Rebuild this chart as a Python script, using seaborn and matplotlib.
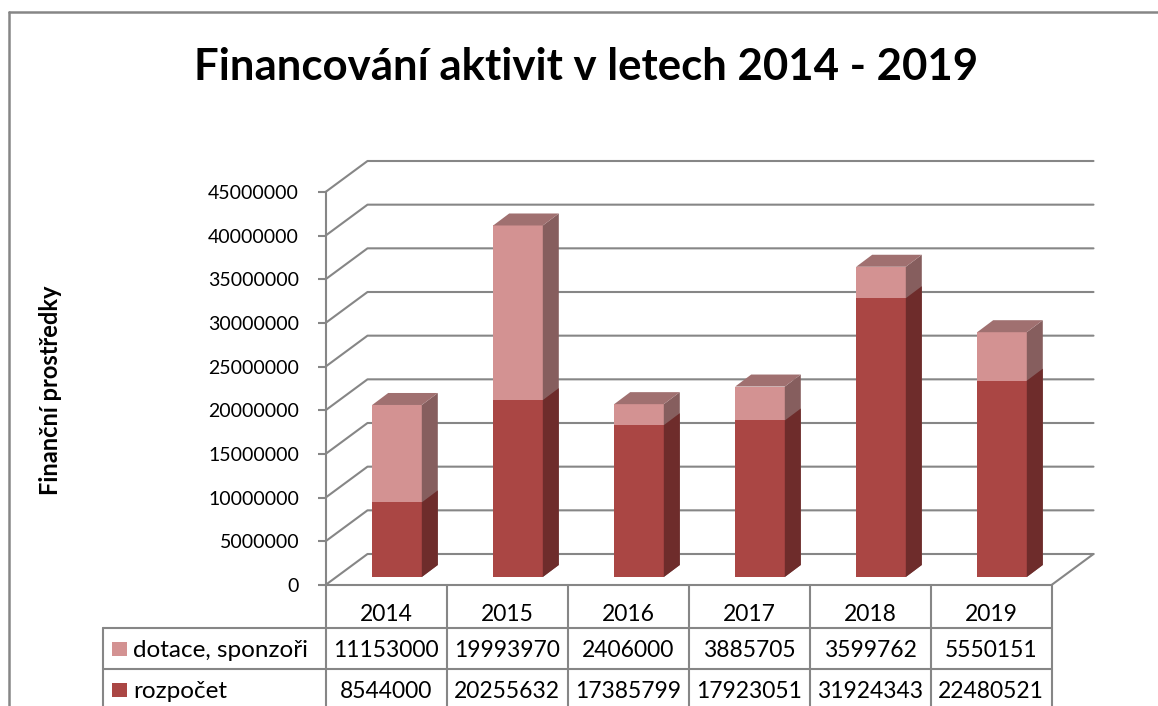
import pandas as pd
import matplotlib
matplotlib.use("Agg")
import matplotlib.pyplot as plt
from matplotlib.patches import Polygon, Rectangle
from matplotlib.lines import Line2D
from matplotlib.transforms import offset_copy, blended_transform_factory
import seaborn as sns

roky = ['2014', '2015', '2016', '2017', '2018', '2019']
dotace = [11153000, 19993970, 2406000, 3885705, 3599762, 5550151]
rozpocet = [8544000, 20255632, 17385799, 17923051, 31924343, 22480521]
serie = ['dotace, sponzoři', 'rozpočet']
yticks = list(range(0, 45000001, 5000000))

title = 'Financování aktivit v letech 2014 - 2019'
ylabel = 'Finanční prostředky'

grid_c = '#868686'
dot_front, dot_side, dot_top = '#D39292', '#865E5E', '#A07070'
roz_front, roz_side = '#AA4644', '#6E2C2B'

W, H = 1158, 706
sns.set_style('white')
plt.rcParams['font.family'] = ['Lato', 'DejaVu Sans']
plt.rcParams['text.color'] = 'black'

fig = plt.figure(figsize=(W / 100, H / 100), dpi=100)


def fx(x):
    return x / W


def fy(y):
    return 1 - y / H


# front plane of the 3d box: 0 at y=585px, 45M at y=192px
ax = fig.add_axes([fx(325.5), fy(585), 726 / W, 393 / H])

df = pd.DataFrame({'rok': roky, 'rozpocet': rozpocet, 'dotace': dotace})
df['celkem'] = df['rozpocet'] + df['dotace']

sns.barplot(data=df, x='rok', y='celkem', color=dot_front, saturation=1,
            width=0.41, errorbar=None, ax=ax, linewidth=0, zorder=3)
sns.barplot(data=df, x='rok', y='rozpocet', color=roz_front, saturation=1,
            width=0.41, errorbar=None, ax=ax, linewidth=0, zorder=4)

ax.set_xlim(-0.5, 5.5)
ax.set_ylim(0, 45000000)

px_val = 393 / 45000000.0
wall_dx, wall_dy = 42 / 121.0, 31 / px_val
side_dx, side_dy = 16 / 121.0, 12 / px_val

# bars stand a bit behind the front plane
bar_tr = offset_copy(ax.transData, fig=fig, x=11, y=8, units='dots')
bars = list(ax.patches)
for k, p in enumerate(bars):
    total = k < len(roky)
    p.set_transform(bar_tr)
    p.set_clip_on(False)
    x0, y0, w, h = p.get_x(), p.get_y(), p.get_width(), p.get_height()
    z = 3 if total else 4
    side = Polygon([(x0 + w, y0), (x0 + w + side_dx, y0 + side_dy),
                    (x0 + w + side_dx, y0 + h + side_dy), (x0 + w, y0 + h)],
                   closed=True, transform=bar_tr, facecolor=dot_side if total else roz_side,
                   lw=0, zorder=z, clip_on=False)
    ax.add_patch(side)
    if total:
        top = Polygon([(x0, y0 + h), (x0 + side_dx, y0 + h + side_dy),
                       (x0 + w + side_dx, y0 + h + side_dy), (x0 + w, y0 + h)],
                      closed=True, transform=bar_tr, facecolor=dot_top,
                      lw=0, zorder=z, clip_on=False)
        ax.add_patch(top)

# walls and floor
for v in yticks:
    ax.plot([-0.5, -0.5 + wall_dx, 5.5 + wall_dx], [v, v + wall_dy, v + wall_dy],
            color=grid_c, lw=1.5, zorder=1, clip_on=False)
ax.plot([5.5, 5.5 + wall_dx], [0, wall_dy], color=grid_c, lw=1.5, zorder=1, clip_on=False)
ax.plot([-0.5, 5.5], [0, 0], color=grid_c, lw=1.5, zorder=1, clip_on=False)

for s in ['top', 'right', 'bottom']:
    ax.spines[s].set_visible(False)
ax.spines['left'].set_color(grid_c)
ax.spines['left'].set_linewidth(1.5)
ax.set_yticks(yticks, labels=[str(v) for v in yticks])
ax.tick_params(axis='y', left=True, length=6, width=1.5, color=grid_c, pad=13,
               labelsize=14, labelcolor='black')
ax.tick_params(axis='x', bottom=False, labelbottom=False)
ax.set_xlabel('')
ax.set_ylabel('')
ax.patch.set_alpha(0)

# data table
tr_x = blended_transform_factory(ax.transData, fig.transFigure)
for k in range(len(roky) + 1):
    ax.plot([k - 0.5, k - 0.5], [fy(585), 0], transform=tr_x, color=grid_c,
            lw=1.5, clip_on=False)
for yy in [628, 669]:
    fig.add_artist(Line2D([fx(103), fx(1051.5)], [fy(yy), fy(yy)],
                          transform=fig.transFigure, color=grid_c, lw=1.5))
fig.add_artist(Line2D([fx(103), fx(103)], [fy(628), 0],
                      transform=fig.transFigure, color=grid_c, lw=1.5))

for i, r in enumerate(roky):
    ax.text(i, fy(621), r, transform=tr_x, ha='center', va='baseline', size=16.5)
    ax.text(i, fy(657), str(dotace[i]), transform=tr_x, ha='center', va='baseline', size=16.5)
    ax.text(i, fy(698), str(rozpocet[i]), transform=tr_x, ha='center', va='baseline', size=16.5)

for name, col, ytop, base in [(serie[0], dot_front, 642, 657), (serie[1], roz_front, 683, 698)]:
    fig.add_artist(Rectangle((fx(112), fy(ytop + 14)), 15 / W, 14 / H,
                             transform=fig.transFigure, facecolor=col, lw=0))
    fig.text(fx(133), fy(base), name, ha='left', va='baseline', size=17.5)

fig.text(fx(586), fy(80), title, ha='center', va='baseline', size=31.5, weight='bold')
fig.text(fx(51), fy(390), ylabel, ha='center', va='center', rotation=90,
         size=17, weight='bold')

# chart border
fig.add_artist(Line2D([fx(9), fx(9)], [fy(12), 0], transform=fig.transFigure,
                      color=grid_c, lw=1.8))
fig.add_artist(Line2D([fx(9), 1], [fy(12), fy(12)], transform=fig.transFigure,
                      color=grid_c, lw=1.8))

fig.savefig('out.png', dpi=100)
